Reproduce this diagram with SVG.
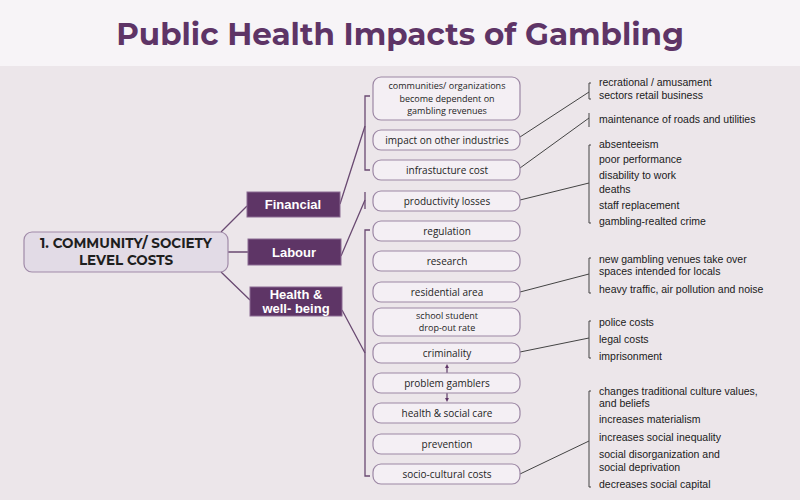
<svg xmlns="http://www.w3.org/2000/svg" width="800" height="500" viewBox="0 0 800 500">
<defs>
<style>
.t{font-family:"Montserrat","Liberation Sans",sans-serif;fill:#1e1e1e;text-anchor:middle}
.cat{fill:#5e3566;stroke:#8a6a92;stroke-width:1}
.catt{font-family:"Liberation Sans",sans-serif;font-weight:bold;font-size:13px;fill:#fff;text-anchor:middle}
.box{fill:#f4eff4;stroke:#9c87a4;stroke-width:1.2}
.bt{font-family:"Open Sans","Liberation Sans",sans-serif;font-size:10px;fill:#1e1e1e;text-anchor:middle}
.bs{font-size:9px}
.rt{font-family:"Liberation Sans",sans-serif;font-size:10.5px;fill:#1a1a1a}
.pl{stroke:#6a4a72;stroke-width:1.3;fill:none}
.gl{stroke:#444;stroke-width:1;fill:none}
</style>
<marker id="ah" viewBox="0 0 10 10" refX="5" refY="5" markerWidth="3.5" markerHeight="3" orient="auto-start-reverse"><path d="M0,0 L10,5 L0,10 z" fill="#5e3566"/></marker>
</defs>
<rect width="800" height="500" fill="#ece6ea"/>
<rect width="800" height="66" fill="#f7f4f7"/>
<text x="400" y="45" font-family="Montserrat,'Liberation Sans',sans-serif" font-weight="bold" font-size="31" fill="#5e3466" text-anchor="middle">Public Health Impacts of Gambling</text>

<g id="connectors">
<path class="pl" d="M221,232 L247,206 M228,252 L248,252 M221,272 L250,300"/>
<path class="pl" d="M340,204 L365,126 M341,256 L365,200 M342,310 L365,353"/>
<path class="pl" d="M370,96 L365,96 L365,170 L370,170 M365,192 L365,209 M370,230 L365,230 L365,476 L370,476"/>
<path class="pl" d="M447,373 L447,366" stroke-width="4" marker-end="url(#ah)"/>
<path class="pl" d="M447,393 L447,400" stroke-width="4" marker-end="url(#ah)"/>
<path class="gl" d="M520,137 L589,92 M520,168 L589,118 M520,200 L589,183 M520,292 L589,274 M520,352 L589,338 M520,474 L589,441"/>
<path class="gl" d="M591,83 L589,83 L589,99 L591,99 M589,113 L589,127 M591,145 L589,145 L589,223 L591,223 M591,258 L589,258 L589,293 L591,293 M591,321 L589,321 L589,358 L591,358 M591,391 L589,391 L589,487 L591,487"/>
</g>

<g id="root"><rect x="24" y="232" width="204" height="40" rx="8" fill="#e2dbe6" stroke="#a08aa8" stroke-width="1.2"/>
<text class="t" x="126" y="248" font-size="13.5" font-weight="bold">1. COMMUNITY/ SOCIETY</text>
<text class="t" x="126" y="265" font-size="13.5" font-weight="bold">LEVEL COSTS</text></g>
<g id="financial"><rect class="cat" x="247" y="192" width="93" height="25"/><text class="catt" x="293" y="209">Financial</text></g>
<g id="labour"><rect class="cat" x="248" y="239" width="93" height="26"/><text class="catt" x="294" y="257">Labour</text></g>
<g id="health"><rect class="cat" x="250" y="287" width="92" height="29"/><text class="catt" x="296" y="299">Health &amp;</text><text class="catt" x="296" y="313">well- being</text></g>

<g id="b1"><rect class="box" x="373" y="77" width="147" height="43" rx="8"/><text class="bt bs" x="447" y="89">communities/ organizations</text><text class="bt bs" x="447" y="101.5">become dependent on</text><text class="bt bs" x="447" y="114">gambling revenues</text></g>
<g id="b2"><rect class="box" x="373" y="130" width="147" height="20" rx="8"/><text class="bt" x="447" y="144">impact on other industries</text></g>
<g id="b3"><rect class="box" x="373" y="160" width="147" height="20" rx="8"/><text class="bt" x="447" y="174">infrastucture cost</text></g>
<g id="b4"><rect class="box" x="373" y="191" width="147" height="20" rx="8"/><text class="bt" x="447" y="205">productivity losses</text></g>
<g id="b5"><rect class="box" x="373" y="221" width="147" height="20" rx="8"/><text class="bt" x="447" y="235">regulation</text></g>
<g id="b6"><rect class="box" x="373" y="251" width="147" height="20" rx="8"/><text class="bt" x="447" y="265">research</text></g>
<g id="b7"><rect class="box" x="373" y="282" width="147" height="20" rx="8"/><text class="bt" x="447" y="296">residential area</text></g>
<g id="b8"><rect class="box" x="373" y="308" width="147" height="28" rx="8"/><text class="bt bs" x="447" y="318.5">school student</text><text class="bt bs" x="447" y="331">drop-out rate</text></g>
<g id="b9"><rect class="box" x="373" y="343" width="147" height="20" rx="8"/><text class="bt" x="447" y="357">criminality</text></g>
<g id="b10"><rect class="box" x="373" y="373" width="147" height="20" rx="8"/><text class="bt" x="447" y="387">problem gamblers</text></g>
<g id="b11"><rect class="box" x="373" y="403" width="147" height="20" rx="8"/><text class="bt" x="447" y="417">health &amp; social care</text></g>
<g id="b12"><rect class="box" x="373" y="434" width="147" height="20" rx="8"/><text class="bt" x="447" y="448">prevention</text></g>
<g id="b13"><rect class="box" x="373" y="464" width="147" height="20" rx="8"/><text class="bt" x="447" y="478">socio-cultural costs</text></g>

<g id="notes">
<text class="rt" x="599" y="86">recrational / amusament</text>
<text class="rt" x="599" y="99">sectors retail business</text>
<text class="rt" x="599" y="123">maintenance of roads and utilities</text>
<text class="rt" x="599" y="148">absenteeism</text>
<text class="rt" x="599" y="163">poor performance</text>
<text class="rt" x="599" y="179">disability to work</text>
<text class="rt" x="599" y="193">deaths</text>
<text class="rt" x="599" y="209">staff replacement</text>
<text class="rt" x="599" y="225">gambling-realted crime</text>
<text class="rt" x="599" y="263">new gambling venues take over</text>
<text class="rt" x="599" y="275">spaces intended for locals</text>
<text class="rt" x="599" y="293">heavy traffic, air pollution and noise</text>
<text class="rt" x="599" y="326">police costs</text>
<text class="rt" x="599" y="343">legal costs</text>
<text class="rt" x="599" y="360">imprisonment</text>
<text class="rt" x="599" y="395">changes traditional culture values,</text>
<text class="rt" x="599" y="407">and beliefs</text>
<text class="rt" x="599" y="423">increases materialism</text>
<text class="rt" x="599" y="441">increases social inequality</text>
<text class="rt" x="599" y="458">social disorganization and</text>
<text class="rt" x="599" y="471">social deprivation</text>
<text class="rt" x="599" y="488">decreases social capital</text>
</g>
</svg>
